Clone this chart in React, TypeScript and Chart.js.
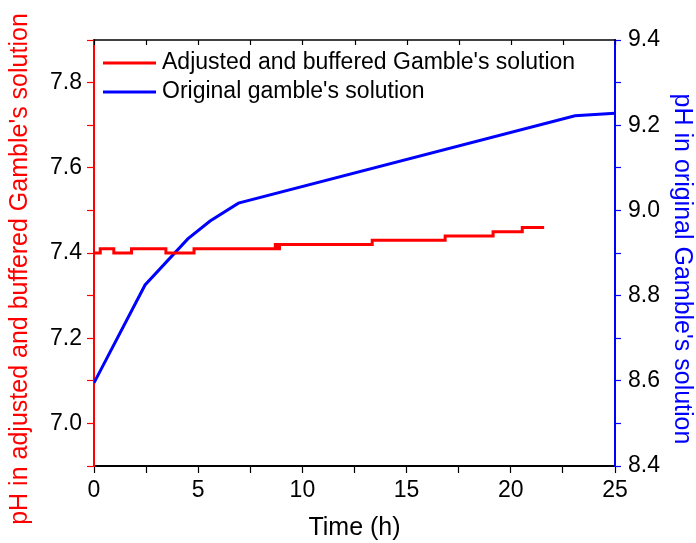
import { useEffect, useRef } from "react";
import { Chart, registerables } from "chart.js";

Chart.register(...registerables);

// Adjusted and buffered Gamble's solution: time (h) at which each reading starts, and its pH
const adjustedTime = [0, 0.3, 0.95, 1.8, 3.45, 4.8, 8.7, 8.8, 8.9, 13.35, 16.85, 19.15, 20.55, 21.6];
const adjustedPH = [7.4, 7.41, 7.4, 7.41, 7.4, 7.41, 7.42, 7.41, 7.42, 7.43, 7.44, 7.45, 7.46, 7.46];

// Original Gamble's solution
const originalTime = [0, 2.45, 4.5, 5.57, 6.93, 23.08, 25];
const originalPH = [8.595, 8.825, 8.933, 8.975, 9.017, 9.222, 9.228];

const seriesLabels = ["Adjusted and buffered Gamble's solution", "Original gamble's solution"];
const xTitle = "Time (h)";
const leftTitle = "pH in adjusted and buffered Gamble's solution";
const rightTitle = "pH in original Gamble's solution";

const FONT = "'Liberation Sans', Arial, sans-serif";
const RED = "#ff0000";
const BLUE = "#0000ff";

const evenTenth = (v: number) => (Math.round(v * 10) % 2 === 0 ? v.toFixed(1) : "");

// Top frame with inward ticks, in-plot legend and the two vertical axis titles
const decorations = {
  id: "decorations",
  afterDraw(chart: any) {
    const { ctx, chartArea } = chart;
    const xs = chart.scales.x;
    ctx.save();

    // top frame line
    ctx.strokeStyle = "#000";
    ctx.lineWidth = 1.5;
    ctx.beginPath();
    ctx.moveTo(chartArea.left, chartArea.top);
    ctx.lineTo(chartArea.right, chartArea.top);
    ctx.stroke();
    ctx.lineWidth = 1.2;
    for (const t of xs.ticks) {
      const px = Math.round(xs.getPixelForValue(t.value)) + 0.5;
      ctx.beginPath();
      ctx.moveTo(px, chartArea.top);
      ctx.lineTo(px, chartArea.top + 5);
      ctx.stroke();
    }

    // legend
    ctx.font = `23px ${FONT}`;
    ctx.textBaseline = "middle";
    ctx.textAlign = "left";
    chart.data.datasets.forEach((ds: any, i: number) => {
      const y = chartArea.top + 23 + i * 29;
      ctx.strokeStyle = ds.borderColor;
      ctx.lineWidth = 3;
      ctx.beginPath();
      ctx.moveTo(chartArea.left + 9, y);
      ctx.lineTo(chartArea.left + 62, y);
      ctx.stroke();
      ctx.fillStyle = "#000";
      ctx.fillText(ds.label, chartArea.left + 68, y);
    });

    // vertical axis titles
    const cy = (chartArea.top + chartArea.bottom) / 2 + 16;
    ctx.font = `25px ${FONT}`;
    ctx.textAlign = "center";
    ctx.textBaseline = "middle";

    ctx.save();
    ctx.translate(20, cy);
    ctx.rotate(-Math.PI / 2);
    ctx.fillStyle = RED;
    ctx.fillText(leftTitle, 0, 0);
    ctx.restore();

    ctx.save();
    ctx.translate(682, cy);
    ctx.rotate(Math.PI / 2);
    ctx.fillStyle = BLUE;
    ctx.fillText(rightTitle, 0, 0);
    ctx.restore();

    ctx.restore();
  },
};

export default function App() {
  const canvasRef = useRef<HTMLCanvasElement | null>(null);

  useEffect(() => {
    if (!canvasRef.current) return;
    const chart = new Chart(canvasRef.current, {
      type: "line",
      data: {
        datasets: [
          {
            label: seriesLabels[0],
            data: adjustedTime.map((t, i) => ({ x: t, y: adjustedPH[i] })),
            yAxisID: "y",
            borderColor: RED,
            backgroundColor: RED,
            borderWidth: 3,
            pointRadius: 0,
            stepped: "before",
          },
          {
            label: seriesLabels[1],
            data: originalTime.map((t, i) => ({ x: t, y: originalPH[i] })),
            yAxisID: "y2",
            borderColor: BLUE,
            backgroundColor: BLUE,
            borderWidth: 3,
            pointRadius: 0,
            tension: 0,
          },
        ],
      },
      options: {
        animation: false,
        responsive: true,
        maintainAspectRatio: false,
        layout: { padding: { top: 40, left: 0, right: 0, bottom: 0 } },
        plugins: { legend: { display: false }, tooltip: { enabled: false } },
        scales: {
          x: {
            type: "linear",
            position: "bottom",
            min: 0,
            max: 25,
            afterFit: (s: any) => {
              s.height = 77;
            },
            ticks: {
              stepSize: 2.5,
              autoSkip: false,
              maxRotation: 0,
              color: "#000",
              font: { family: FONT, size: 23 },
              padding: 4,
              callback: (v: any) => (Number(v) % 5 === 0 ? String(v) : ""),
            },
            grid: {
              drawOnChartArea: false,
              drawTicks: true,
              tickLength: 7,
              tickColor: "#000",
              tickWidth: 1.2,
            },
            border: { color: "#000", width: 2 },
            title: {
              display: true,
              text: xTitle,
              color: "#000",
              font: { family: FONT, size: 25 },
              padding: { top: 0, bottom: 0 },
            },
          },
          y: {
            type: "linear",
            position: "left",
            min: 6.9,
            max: 7.9,
            afterFit: (s: any) => {
              s.width = 94;
            },
            ticks: {
              stepSize: 0.1,
              autoSkip: false,
              color: "#000",
              font: { family: FONT, size: 23 },
              padding: 5,
              callback: (v: any) => evenTenth(Number(v)),
            },
            grid: {
              drawOnChartArea: false,
              drawTicks: true,
              tickLength: 7,
              tickColor: RED,
              tickWidth: 1.2,
            },
            border: { color: RED, width: 2 },
          },
          y2: {
            type: "linear",
            position: "right",
            min: 8.4,
            max: 9.4,
            afterFit: (s: any) => {
              s.width = 81;
            },
            ticks: {
              stepSize: 0.1,
              autoSkip: false,
              color: "#000",
              font: { family: FONT, size: 23 },
              padding: 7,
              callback: (v: any) => evenTenth(Number(v)),
            },
            grid: {
              drawOnChartArea: false,
              drawTicks: true,
              tickLength: 6,
              tickColor: BLUE,
              tickWidth: 1.2,
            },
            border: { color: BLUE, width: 2 },
          },
        },
      },
      plugins: [decorations],
    });
    return () => chart.destroy();
  }, []);

  return (
    <div style={{ position: "absolute", left: 0, top: 0, width: 696, height: 543, background: "#fff" }}>
      <canvas ref={canvasRef} />
    </div>
  );
}
